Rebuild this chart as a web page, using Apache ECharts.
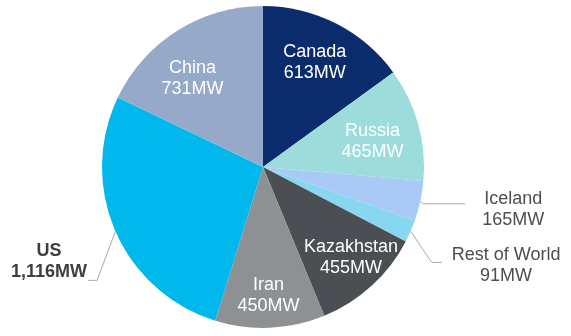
<!DOCTYPE html>
<html>
<head>
<meta charset="utf-8">
<script src="https://cdn.jsdelivr.net/npm/echarts@6/dist/echarts.min.js"></script>
<style>
  html, body { margin: 0; padding: 0; background: #fff; }
  #chart { width: 571px; height: 336px; }
</style>
</head>
<body>
<div id="chart"></div>
<script>
// installed capacity by country
const countries = ["Canada", "Russia", "Iceland", "Rest of World", "Kazakhstan", "Iran", "US", "China"];
const capacityMW = [613, 465, 165, 91, 455, 450, 1116, 731];
const sliceColors = ["#0b2c6c", "#9cdcdb", "#a9c9f6", "#88d7f1", "#4b4e53", "#8e9194", "#00b8ec", "#97a9c8"];
const labelInside = [true, true, false, false, true, true, false, true];

// small nudges for the label text (not the slices)
const insideNudge = {
  Canada: [-4, 5], Russia: [-9, 7], Kazakhstan: [5, 0], Iran: [0, 6], China: [-5, 16]
};
const outsideLabel = {
  "Iceland": { length: 3, length2: 42, dist: 17, lineDy: 2, textDy: 6, bold: false },
  "Rest of World": { length: 23, length2: 10, dist: 10, lineDy: 22, textDy: 3, bold: false },
  "US": { length: 20, length2: 9, dist: 1, lineDy: 41, textDy: -19, bold: true }
};

const center = [263, 167];
const radius = 161;

function fmt(v) {
  return v.toString().replace(/\B(?=(\d{3})+(?!\d))/g, ",") + "MW";
}

const chart = echarts.init(document.getElementById("chart"));

const pieData = countries.map((name, i) => {
  const item = { name: name, value: capacityMW[i], itemStyle: { color: sliceColors[i] } };
  const o = outsideLabel[name];
  if (o) {
    item.label = { show: true, distanceToLabelLine: o.dist };
    item.labelLine = { show: true, length: o.length, length2: o.length2 };
  } else {
    item.label = { show: false };
    item.labelLine = { show: false };
  }
  return item;
});

const ringData = countries.map((name, i) => ({
  name: name,
  value: capacityMW[i],
  label: { show: labelInside[i] }
}));

chart.setOption({
  animation: false,
  textStyle: { fontFamily: "Liberation Sans, Arial, sans-serif" },
  series: [
    {
      type: "pie",
      center: center,
      radius: radius,
      startAngle: 90,
      clockwise: true,
      avoidLabelOverlap: false,
      bleedMargin: 0,
      silent: true,
      data: pieData,
      label: {
        position: "outside",
        fontSize: 18,
        formatter: p => {
          const k = outsideLabel[p.name] && outsideLabel[p.name].bold ? "b" : "a";
          return "{" + k + "|" + p.name + "}\n{" + k + "|" + fmt(p.value) + "}";
        },
        rich: {
          a: { fontSize: 18, lineHeight: 21, color: "#4d4d4d", align: "center" },
          b: { fontSize: 18, lineHeight: 21, color: "#3f3f3f", fontWeight: "bold", align: "center" }
        }
      },
      labelLine: {
        lineStyle: { color: "#a8a8a8", width: 1 }
      },
      labelLayout: p => {
        const o = outsideLabel[countries[p.dataIndex]];
        const pts = p.labelLinePoints;
        if (!o || !pts) return {};
        pts[1][1] += o.lineDy;
        pts[2][1] += o.lineDy;
        return { y: pts[2][1] + o.textDy, labelLinePoints: pts };
      }
    },
    {
      // transparent ring, only used to place the labels that sit inside the slices
      type: "pie",
      center: center,
      radius: [79, radius],
      startAngle: 90,
      clockwise: true,
      silent: true,
      avoidLabelOverlap: false,
      itemStyle: { color: "rgba(0,0,0,0)" },
      data: ringData,
      label: {
        position: "inside",
        color: "#ffffff",
        fontSize: 18,
        lineHeight: 21,
        formatter: p => p.name + "\n" + fmt(p.value)
      },
      labelLine: { show: false },
      labelLayout: p => {
        const n = insideNudge[countries[p.dataIndex]] || [0, 0];
        const r = p.labelRect;
        return { x: r.x + r.width / 2 + n[0], y: r.y + r.height / 2 + n[1] };
      }
    }
  ]
});
</script>
</body>
</html>
